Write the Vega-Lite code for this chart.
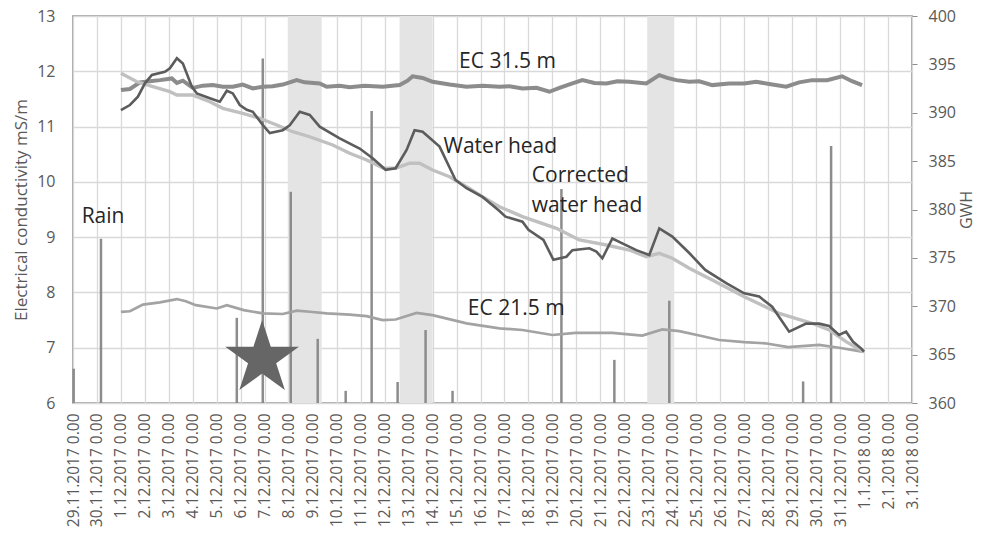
{
  "$schema": "https://vega.github.io/schema/vega-lite/v6.json",
  "width": 839,
  "height": 387,
  "autosize": {"type": "none"},
  "padding": {"left": 73, "top": 16, "right": 72, "bottom": 130},
  "background": "white",
  "config": {
    "font": "Open Sans",
    "view": {"stroke": "#8c8c8c", "strokeWidth": 1.5},
    "axis": {
      "domain": false,
      "gridColor": "#d9d9d9",
      "gridWidth": 1.3,
      "labelColor": "#595959",
      "titleColor": "#595959",
      "labelFont": "Open Sans",
      "titleFont": "Open Sans",
      "titleFontWeight": "normal"
    }
  },
  "datasets": {
    "bands": [
      {"t": "2017-12-07T23:00:00", "t2": "2017-12-09T09:00:00"},
      {"t": "2017-12-12T15:00:00", "t2": "2017-12-14T00:00:00"},
      {"t": "2017-12-22T23:00:00", "t2": "2017-12-24T02:00:00"}
    ],
    "rain": [
      {"t": "2017-11-29T00:40:00", "v": 6.62},
      {"t": "2017-11-30T04:00:00", "v": 8.97},
      {"t": "2017-12-05T20:00:00", "v": 7.54},
      {"t": "2017-12-06T22:00:00", "v": 12.23},
      {"t": "2017-12-08T02:00:00", "v": 9.82},
      {"t": "2017-12-09T05:00:00", "v": 7.16},
      {"t": "2017-12-10T09:00:00", "v": 6.22},
      {"t": "2017-12-11T11:00:00", "v": 11.28},
      {"t": "2017-12-12T13:00:00", "v": 6.38},
      {"t": "2017-12-13T17:00:00", "v": 7.32},
      {"t": "2017-12-14T20:00:00", "v": 6.22},
      {"t": "2017-12-19T09:00:00", "v": 9.87},
      {"t": "2017-12-21T14:00:00", "v": 6.78},
      {"t": "2017-12-23T21:00:00", "v": 7.85},
      {"t": "2017-12-29T11:00:00", "v": 6.39},
      {"t": "2017-12-30T15:00:00", "v": 10.65}
    ],
    "ec31": [
      {"t": "2017-12-01T00:00:00", "v": 11.66},
      {"t": "2017-12-01T09:00:00", "v": 11.68},
      {"t": "2017-12-01T19:00:00", "v": 11.80},
      {"t": "2017-12-02T05:00:00", "v": 11.82},
      {"t": "2017-12-02T15:00:00", "v": 11.84},
      {"t": "2017-12-03T03:00:00", "v": 11.87},
      {"t": "2017-12-03T08:00:00", "v": 11.79},
      {"t": "2017-12-03T14:00:00", "v": 11.83},
      {"t": "2017-12-04T00:00:00", "v": 11.70},
      {"t": "2017-12-04T10:00:00", "v": 11.74},
      {"t": "2017-12-04T20:00:00", "v": 11.75},
      {"t": "2017-12-05T06:00:00", "v": 11.72},
      {"t": "2017-12-05T16:00:00", "v": 11.72},
      {"t": "2017-12-06T02:00:00", "v": 11.76},
      {"t": "2017-12-06T12:00:00", "v": 11.69},
      {"t": "2017-12-06T22:00:00", "v": 11.72},
      {"t": "2017-12-07T08:00:00", "v": 11.73},
      {"t": "2017-12-07T18:00:00", "v": 11.76},
      {"t": "2017-12-08T08:00:00", "v": 11.84},
      {"t": "2017-12-08T16:00:00", "v": 11.80},
      {"t": "2017-12-09T07:00:00", "v": 11.78},
      {"t": "2017-12-09T14:00:00", "v": 11.72},
      {"t": "2017-12-10T03:00:00", "v": 11.74},
      {"t": "2017-12-10T13:00:00", "v": 11.71},
      {"t": "2017-12-11T04:00:00", "v": 11.74},
      {"t": "2017-12-11T22:00:00", "v": 11.72},
      {"t": "2017-12-12T15:00:00", "v": 11.75},
      {"t": "2017-12-12T23:00:00", "v": 11.83},
      {"t": "2017-12-13T04:00:00", "v": 11.91},
      {"t": "2017-12-13T14:00:00", "v": 11.88},
      {"t": "2017-12-14T00:00:00", "v": 11.81},
      {"t": "2017-12-14T17:00:00", "v": 11.76},
      {"t": "2017-12-15T10:00:00", "v": 11.72},
      {"t": "2017-12-16T02:00:00", "v": 11.74},
      {"t": "2017-12-16T19:00:00", "v": 11.72},
      {"t": "2017-12-17T05:00:00", "v": 11.73},
      {"t": "2017-12-17T18:00:00", "v": 11.69},
      {"t": "2017-12-18T08:00:00", "v": 11.70},
      {"t": "2017-12-18T21:00:00", "v": 11.63},
      {"t": "2017-12-19T07:00:00", "v": 11.70},
      {"t": "2017-12-19T20:00:00", "v": 11.78},
      {"t": "2017-12-20T06:00:00", "v": 11.84},
      {"t": "2017-12-20T18:00:00", "v": 11.79},
      {"t": "2017-12-21T06:00:00", "v": 11.78},
      {"t": "2017-12-21T17:00:00", "v": 11.82},
      {"t": "2017-12-22T05:00:00", "v": 11.81},
      {"t": "2017-12-22T22:00:00", "v": 11.78},
      {"t": "2017-12-23T11:00:00", "v": 11.93},
      {"t": "2017-12-23T19:00:00", "v": 11.88},
      {"t": "2017-12-24T04:00:00", "v": 11.84},
      {"t": "2017-12-24T17:00:00", "v": 11.81},
      {"t": "2017-12-25T03:00:00", "v": 11.82},
      {"t": "2017-12-25T16:00:00", "v": 11.75},
      {"t": "2017-12-26T09:00:00", "v": 11.78},
      {"t": "2017-12-27T00:00:00", "v": 11.78},
      {"t": "2017-12-27T12:00:00", "v": 11.81},
      {"t": "2017-12-28T01:00:00", "v": 11.77},
      {"t": "2017-12-28T18:00:00", "v": 11.72},
      {"t": "2017-12-29T07:00:00", "v": 11.80},
      {"t": "2017-12-29T20:00:00", "v": 11.84},
      {"t": "2017-12-30T11:00:00", "v": 11.84},
      {"t": "2017-12-31T02:00:00", "v": 11.91},
      {"t": "2017-12-31T12:00:00", "v": 11.82},
      {"t": "2017-12-31T22:00:00", "v": 11.75}
    ],
    "ec21": [
      {"t": "2017-12-01T00:00:00", "v": 7.65},
      {"t": "2017-12-01T09:00:00", "v": 7.66},
      {"t": "2017-12-01T22:00:00", "v": 7.78},
      {"t": "2017-12-02T15:00:00", "v": 7.82},
      {"t": "2017-12-03T08:00:00", "v": 7.88},
      {"t": "2017-12-03T17:00:00", "v": 7.84},
      {"t": "2017-12-04T03:00:00", "v": 7.77},
      {"t": "2017-12-05T00:00:00", "v": 7.71},
      {"t": "2017-12-05T10:00:00", "v": 7.77},
      {"t": "2017-12-06T03:00:00", "v": 7.68},
      {"t": "2017-12-06T22:00:00", "v": 7.62},
      {"t": "2017-12-07T18:00:00", "v": 7.61},
      {"t": "2017-12-08T08:00:00", "v": 7.67},
      {"t": "2017-12-08T21:00:00", "v": 7.65},
      {"t": "2017-12-09T14:00:00", "v": 7.62},
      {"t": "2017-12-10T13:00:00", "v": 7.60},
      {"t": "2017-12-11T06:00:00", "v": 7.57},
      {"t": "2017-12-11T22:00:00", "v": 7.50},
      {"t": "2017-12-12T11:00:00", "v": 7.51},
      {"t": "2017-12-13T08:00:00", "v": 7.63},
      {"t": "2017-12-14T00:00:00", "v": 7.59},
      {"t": "2017-12-15T10:00:00", "v": 7.44},
      {"t": "2017-12-16T19:00:00", "v": 7.35},
      {"t": "2017-12-17T18:00:00", "v": 7.32},
      {"t": "2017-12-19T00:00:00", "v": 7.23},
      {"t": "2017-12-19T23:00:00", "v": 7.27},
      {"t": "2017-12-21T12:00:00", "v": 7.27},
      {"t": "2017-12-22T18:00:00", "v": 7.22},
      {"t": "2017-12-23T14:00:00", "v": 7.33},
      {"t": "2017-12-24T07:00:00", "v": 7.30},
      {"t": "2017-12-25T03:00:00", "v": 7.22},
      {"t": "2017-12-25T23:00:00", "v": 7.14},
      {"t": "2017-12-27T00:00:00", "v": 7.10},
      {"t": "2017-12-27T21:00:00", "v": 7.08},
      {"t": "2017-12-28T20:00:00", "v": 7.01},
      {"t": "2017-12-30T03:00:00", "v": 7.05},
      {"t": "2017-12-30T23:00:00", "v": 7.00},
      {"t": "2017-12-31T22:00:00", "v": 6.93}
    ],
    "wh": [
      {"t": "2017-12-01T00:00:00", "g": 390.28},
      {"t": "2017-12-01T09:00:00", "g": 390.80},
      {"t": "2017-12-01T17:00:00", "g": 391.66},
      {"t": "2017-12-02T00:00:00", "g": 393.04},
      {"t": "2017-12-02T07:00:00", "g": 393.90},
      {"t": "2017-12-02T20:00:00", "g": 394.24},
      {"t": "2017-12-03T01:00:00", "g": 394.60},
      {"t": "2017-12-03T08:00:00", "g": 395.63},
      {"t": "2017-12-03T14:00:00", "g": 395.10},
      {"t": "2017-12-03T23:00:00", "g": 392.70},
      {"t": "2017-12-04T04:00:00", "g": 392.00},
      {"t": "2017-12-04T17:00:00", "g": 391.50},
      {"t": "2017-12-05T03:00:00", "g": 391.14},
      {"t": "2017-12-05T10:00:00", "g": 392.28},
      {"t": "2017-12-05T16:00:00", "g": 392.00},
      {"t": "2017-12-05T23:00:00", "g": 390.80},
      {"t": "2017-12-06T06:00:00", "g": 390.30},
      {"t": "2017-12-06T12:00:00", "g": 390.10},
      {"t": "2017-12-06T22:00:00", "g": 388.73},
      {"t": "2017-12-07T05:00:00", "g": 387.90},
      {"t": "2017-12-07T18:00:00", "g": 388.20},
      {"t": "2017-12-08T01:00:00", "g": 388.70},
      {"t": "2017-12-08T11:00:00", "g": 390.10},
      {"t": "2017-12-08T21:00:00", "g": 389.77},
      {"t": "2017-12-09T07:00:00", "g": 388.56},
      {"t": "2017-12-10T03:00:00", "g": 387.36},
      {"t": "2017-12-10T23:00:00", "g": 386.30},
      {"t": "2017-12-11T12:00:00", "g": 385.30},
      {"t": "2017-12-12T01:00:00", "g": 384.10},
      {"t": "2017-12-12T11:00:00", "g": 384.26},
      {"t": "2017-12-12T22:00:00", "g": 386.15},
      {"t": "2017-12-13T06:00:00", "g": 388.20},
      {"t": "2017-12-13T14:00:00", "g": 388.04},
      {"t": "2017-12-14T07:00:00", "g": 386.50},
      {"t": "2017-12-14T23:00:00", "g": 383.05},
      {"t": "2017-12-15T10:00:00", "g": 382.20},
      {"t": "2017-12-16T02:00:00", "g": 381.30},
      {"t": "2017-12-16T19:00:00", "g": 379.85},
      {"t": "2017-12-17T01:00:00", "g": 379.26},
      {"t": "2017-12-17T18:00:00", "g": 378.74},
      {"t": "2017-12-18T00:00:00", "g": 377.90},
      {"t": "2017-12-18T15:00:00", "g": 376.85},
      {"t": "2017-12-19T01:00:00", "g": 374.80},
      {"t": "2017-12-19T14:00:00", "g": 375.12},
      {"t": "2017-12-19T20:00:00", "g": 375.80},
      {"t": "2017-12-20T13:00:00", "g": 375.99},
      {"t": "2017-12-20T20:00:00", "g": 375.64},
      {"t": "2017-12-21T02:00:00", "g": 374.96},
      {"t": "2017-12-21T12:00:00", "g": 377.00},
      {"t": "2017-12-21T22:00:00", "g": 376.50},
      {"t": "2017-12-22T12:00:00", "g": 375.80},
      {"t": "2017-12-23T01:00:00", "g": 375.30},
      {"t": "2017-12-23T11:00:00", "g": 378.05},
      {"t": "2017-12-24T00:00:00", "g": 377.20},
      {"t": "2017-12-24T17:00:00", "g": 375.50},
      {"t": "2017-12-25T09:00:00", "g": 373.75},
      {"t": "2017-12-26T06:00:00", "g": 372.40},
      {"t": "2017-12-27T00:00:00", "g": 371.34},
      {"t": "2017-12-27T15:00:00", "g": 371.00},
      {"t": "2017-12-28T04:00:00", "g": 369.95},
      {"t": "2017-12-28T11:00:00", "g": 368.90},
      {"t": "2017-12-28T21:00:00", "g": 367.37},
      {"t": "2017-12-29T14:00:00", "g": 368.20},
      {"t": "2017-12-30T03:00:00", "g": 368.20},
      {"t": "2017-12-30T13:00:00", "g": 367.96},
      {"t": "2017-12-30T23:00:00", "g": 367.03},
      {"t": "2017-12-31T06:00:00", "g": 367.37},
      {"t": "2017-12-31T13:00:00", "g": 366.33},
      {"t": "2017-12-31T21:00:00", "g": 365.65},
      {"t": "2018-01-01T00:00:00", "g": 365.30}
    ],
    "cwh": [
      {"t": "2017-12-01T00:00:00", "g": 394.08},
      {"t": "2017-12-01T16:00:00", "g": 393.20},
      {"t": "2017-12-02T08:00:00", "g": 392.70},
      {"t": "2017-12-03T01:00:00", "g": 392.18},
      {"t": "2017-12-03T08:00:00", "g": 391.83},
      {"t": "2017-12-04T00:00:00", "g": 391.83},
      {"t": "2017-12-04T17:00:00", "g": 391.14},
      {"t": "2017-12-05T06:00:00", "g": 390.46},
      {"t": "2017-12-06T02:00:00", "g": 389.94},
      {"t": "2017-12-06T19:00:00", "g": 389.43},
      {"t": "2017-12-07T12:00:00", "g": 388.73},
      {"t": "2017-12-08T04:00:00", "g": 388.04},
      {"t": "2017-12-08T21:00:00", "g": 387.52},
      {"t": "2017-12-09T20:00:00", "g": 386.67},
      {"t": "2017-12-10T13:00:00", "g": 385.81},
      {"t": "2017-12-11T06:00:00", "g": 385.12},
      {"t": "2017-12-11T23:00:00", "g": 384.26},
      {"t": "2017-12-12T11:00:00", "g": 384.26},
      {"t": "2017-12-13T01:00:00", "g": 384.78},
      {"t": "2017-12-13T11:00:00", "g": 384.78},
      {"t": "2017-12-14T00:00:00", "g": 384.08},
      {"t": "2017-12-14T17:00:00", "g": 383.39},
      {"t": "2017-12-15T10:00:00", "g": 382.36},
      {"t": "2017-12-16T02:00:00", "g": 381.32},
      {"t": "2017-12-16T19:00:00", "g": 380.29},
      {"t": "2017-12-17T18:00:00", "g": 379.26},
      {"t": "2017-12-19T04:00:00", "g": 378.06},
      {"t": "2017-12-20T03:00:00", "g": 376.85},
      {"t": "2017-12-21T06:00:00", "g": 376.33},
      {"t": "2017-12-22T05:00:00", "g": 375.81},
      {"t": "2017-12-22T22:00:00", "g": 375.12},
      {"t": "2017-12-23T11:00:00", "g": 375.47},
      {"t": "2017-12-24T00:00:00", "g": 374.96},
      {"t": "2017-12-24T17:00:00", "g": 373.92},
      {"t": "2017-12-25T16:00:00", "g": 372.71},
      {"t": "2017-12-27T00:00:00", "g": 370.99},
      {"t": "2017-12-28T11:00:00", "g": 369.27},
      {"t": "2017-12-29T20:00:00", "g": 368.24},
      {"t": "2017-12-30T13:00:00", "g": 367.55},
      {"t": "2017-12-31T06:00:00", "g": 366.34},
      {"t": "2018-01-01T00:00:00", "g": 365.27}
    ],
    "star": [
      {"t": "2017-12-06T21:20:00", "v": 6.80}
    ],
    "labels": [
      {"t": "2017-12-15T02:30:00", "v": 12.054, "label": "EC 31.5 m"},
      {"t": "2017-12-14T11:00:00", "v": 10.53, "label": "Water head"},
      {"t": "2017-12-18T03:20:00", "v": 10.0, "label": "Corrected"},
      {"t": "2017-12-18T03:20:00", "v": 9.46, "label": "water head"},
      {"t": "2017-12-15T11:20:00", "v": 7.592, "label": "EC 21.5 m"},
      {"t": "2017-11-29T08:40:00", "v": 9.262, "label": "Rain"}
    ]
  },
  "encoding": {
    "x": {
      "field": "t",
      "type": "temporal",
      "scale": {
        "domain": [
          {"year": 2017, "month": 11, "date": 29},
          {"year": 2018, "month": 1, "date": 3}
        ],
        "nice": false
      },
      "axis": {
        "tickCount": {"interval": "day", "step": 1},
        "format": "%-d.%-m.%Y %-H.%M",
        "labelAngle": 270,
        "ticks": false,
        "labelPadding": 10,
        "labelFontSize": 15.5,
        "labelOverlap": false,
        "labelFlush": false,
        "title": null,
        "grid": true
      }
    }
  },
  "layer": [
    {
      "data": {"name": "bands"},
      "mark": {"type": "rect", "color": "#e4e4e4"},
      "encoding": {"x2": {"field": "t2"}}
    },
    {
      "encoding": {
        "y": {
          "field": "v",
          "type": "quantitative",
          "scale": {"domain": [6, 13], "nice": false, "zero": false},
          "axis": {
            "orient": "left",
            "values": [6, 7, 8, 9, 10, 11, 12, 13],
            "ticks": false,
            "labelPadding": 18,
            "labelFontSize": 16,
            "title": "Electrical conductivity mS/m",
            "titleFontSize": 17,
            "titleAngle": 270,
            "titleX": -52,
            "titleY": 193.5,
            "titleAlign": "center",
            "titleBaseline": "middle",
            "grid": true
          }
        }
      },
      "layer": [
        {
          "data": {"name": "rain"},
          "mark": {"type": "rule", "color": "#8c8c8c", "strokeWidth": 2.5},
          "encoding": {"y2": {"datum": 6}}
        },
        {
          "data": {"name": "ec21"},
          "mark": {"type": "line", "color": "#a3a3a3", "strokeWidth": 2.7, "interpolate": "linear"}
        },
        {
          "data": {"name": "ec31"},
          "mark": {"type": "line", "color": "#8c8c8c", "strokeWidth": 4}
        },
        {
          "data": {"name": "star"},
          "mark": {
            "type": "point",
            "shape": "M0,-1L0.2245,-0.309L0.951,-0.309L0.363,0.118L0.588,0.809L0,0.382L-0.588,0.809L-0.363,0.118L-0.951,-0.309L-0.2245,-0.309Z",
            "size": 6000,
            "filled": true,
            "color": "#666666",
            "opacity": 1,
            "strokeWidth": 0
          }
        },
        {
          "data": {"name": "labels"},
          "mark": {"type": "text", "align": "left", "baseline": "alphabetic", "fontSize": 21, "color": "#262626", "font": "Open Sans"},
          "encoding": {"text": {"field": "label"}}
        }
      ]
    },
    {
      "encoding": {
        "y": {
          "field": "g",
          "type": "quantitative",
          "scale": {"domain": [360, 400], "nice": false, "zero": false},
          "axis": {
            "orient": "right",
            "values": [360, 365, 370, 375, 380, 385, 390, 395, 400],
            "grid": false,
            "ticks": true,
            "tickSize": 5,
            "tickColor": "#8c8c8c",
            "labelPadding": 11,
            "labelFontSize": 16,
            "title": "GWH",
            "titleFontSize": 16,
            "titleAngle": 270,
            "titleX": 54,
            "titleY": 193.5,
            "titleAlign": "center",
            "titleBaseline": "middle"
          }
        }
      },
      "layer": [
        {
          "data": {"name": "cwh"},
          "mark": {"type": "line", "color": "#c0c0c0", "strokeWidth": 3.4}
        },
        {
          "data": {"name": "wh"},
          "mark": {"type": "line", "color": "#5c5c5c", "strokeWidth": 2.6}
        }
      ]
    }
  ],
  "resolve": {"scale": {"y": "independent"}}
}
